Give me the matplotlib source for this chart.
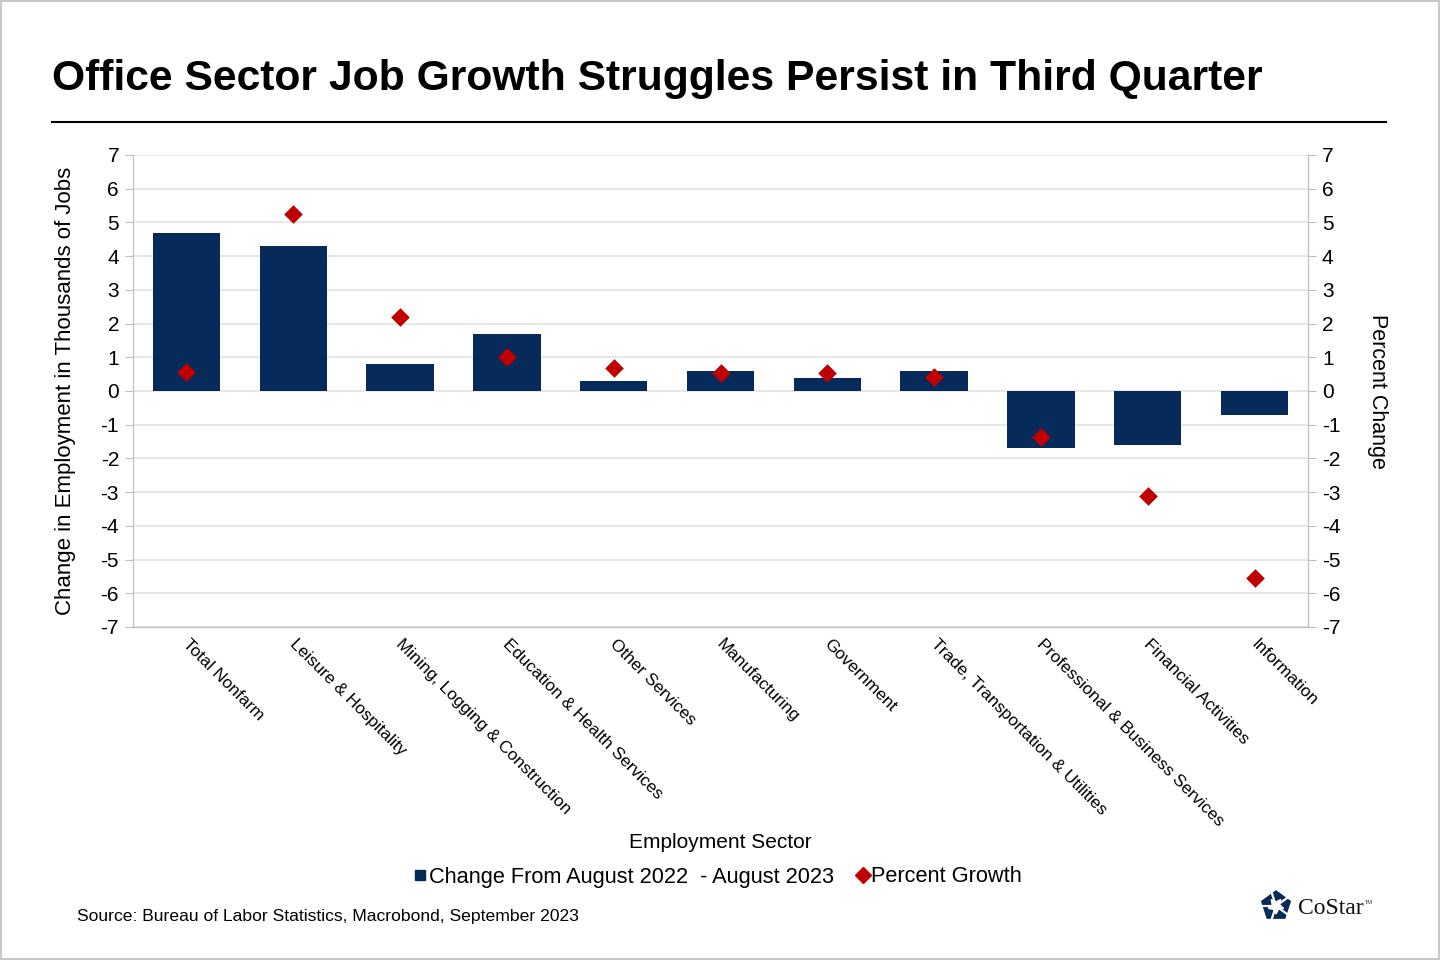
import matplotlib
matplotlib.use("Agg")
import matplotlib.pyplot as plt
import matplotlib.transforms as mtransforms
from matplotlib.lines import Line2D
from matplotlib.patches import Polygon, Rectangle
import numpy as np

categories = ["Total Nonfarm", "Leisure & Hospitality", "Mining, Logging & Construction",
              "Education & Health Services", "Other Services", "Manufacturing", "Government",
              "Trade, Transportation & Utilities", "Professional & Business Services",
              "Financial Activities", "Information"]
job_change = [4.7, 4.3, 0.8, 1.7, 0.3, 0.6, 0.4, 0.6, -1.7, -1.6, -0.7]
pct_growth = [0.55, 5.25, 2.2, 1.0, 0.68, 0.52, 0.52, 0.42, -1.35, -3.1, -5.55]
yticks = list(range(-7, 8))

NAVY = "#062A5A"
RED = "#C00000"
GRID = "#E3E3E3"
SPINE = "#BFBFBF"

plt.rcParams['font.family'] = ['Liberation Sans', 'DejaVu Sans']
plt.rcParams['axes.unicode_minus'] = False

fig = plt.figure(figsize=(14.4, 9.6), dpi=100)
ax = fig.add_axes([133/1440, 1-627/960, (1308-133)/1440, (627-155)/960])
ax2 = ax.twinx()

x = np.arange(len(categories))
ax.bar(x, job_change, width=0.63, color=NAVY, zorder=3)
ax2.scatter(x, pct_growth, marker='D', s=90, color=RED, zorder=4, linewidths=0)

for a in (ax, ax2):
    a.set_ylim(-7, 7)
    a.set_yticks(yticks)
    a.set_xlim(-0.5, len(categories) - 0.5)
    for s in a.spines.values():
        s.set_color(SPINE)
    a.spines['top'].set_visible(False)
ax.grid(axis='y', color=GRID, linewidth=1.2, zorder=0)
ax.set_axisbelow(True)
ax.tick_params(axis='y', labelsize=15, length=6, color=SPINE, pad=4)
ax2.tick_params(axis='y', labelsize=15, length=6, color=SPINE, pad=4)
ax2.set_zorder(ax.get_zorder() + 1)

# x ticks at category boundaries, labels at centers
ax.set_xticks(np.arange(-0.5, len(categories), 1.0))
ax.set_xticklabels([])
ax.tick_params(axis='x', length=6, color=SPINE)
ax.set_xticks(x, minor=True)
ax.set_xticklabels(categories, minor=True, rotation=-45, ha='left', va='top',
                   rotation_mode='anchor', fontsize=12.4)
ax.tick_params(axis='x', which='minor', length=0, pad=7)
offset = mtransforms.ScaledTranslation(4/100, 0, fig.dpi_scale_trans)
for lbl in ax.get_xticklabels(minor=True):
    lbl.set_transform(lbl.get_transform() + offset)
ax2.set_xticks([])

ax.set_ylabel("Change in Employment in Thousands of Jobs", fontsize=16, labelpad=18)
ax2.set_ylabel("Percent Change", fontsize=15.5, rotation=-90, labelpad=34)

fig.text(720/1440, 1-842/960, "Employment Sector", ha='center', va='center', fontsize=15)

# Title and rule
fig.text(52/1440, 1-79/960, "Office Sector Job Growth Struggles Persist in Third Quarter",
         ha='left', va='center', fontsize=30.7, fontweight='bold')
fig.add_artist(Line2D([52/1440, 1386/1440], [1-122/960, 1-122/960], color='black', linewidth=1.5))

# Legend
handles = [Line2D([], [], marker='s', linestyle='none', color=NAVY, markersize=7),
           Line2D([], [], marker='D', linestyle='none', color=RED, markersize=8.5)]
fig.legend(handles, ["Change From August 2022  - August 2023", "Percent Growth"],
           loc='center', bbox_to_anchor=(718/1440, 1-877/960), ncol=2, frameon=False,
           fontsize=15.7, handlelength=0.6, handletextpad=0.1, columnspacing=1.0)

fig.text(77/1440, 1-917/960, "Source: Bureau of Labor Statistics, Macrobond, September 2023",
         ha='left', va='center', fontsize=12.6)

# CoStar logo
logo = fig.add_axes([1256/1440, 1-926/960, 40/1440, 40/960])
logo.set_xlim(-20, 20); logo.set_ylim(-20, 20); logo.axis('off'); logo.set_aspect('equal')
ang = np.deg2rad(90 + 72*np.arange(5))
pent = np.c_[15*np.cos(ang), 15*np.sin(ang)]
logo.add_patch(Polygon(pent, closed=True, color=NAVY))
star = []
for i in range(5):
    a1 = np.deg2rad(90 + 36 + 72*i)
    a0 = np.deg2rad(90 + 72*i)
    star.append([8*np.cos(a0 + np.deg2rad(36)), 8*np.sin(a0 + np.deg2rad(36))])
    star.append([4*np.cos(a1 + np.deg2rad(36)), 4*np.sin(a1 + np.deg2rad(36))])
logo.add_patch(Polygon(star, closed=True, color='white'))
for i in range(5):
    a = np.deg2rad(90 + 72*i + 18)
    logo.plot([0, 17*np.cos(a)], [0, 17*np.sin(a)], color='white', linewidth=1.6)
fig.text(1298/1440, 1-908/960, "CoStar", ha='left', va='center', fontsize=17,
         family=['Liberation Serif', 'DejaVu Serif'], color='#111111')
fig.text(1365/1440, 1-903/960, "TM", ha='left', va='center', fontsize=4, color='#333333')

# outer border
fig.add_artist(Rectangle((0.0005, 0.0008), 0.999, 0.9985, transform=fig.transFigure,
                         fill=False, edgecolor='#C8C8C8', linewidth=1.5))

fig.savefig("out.png", dpi=100)
